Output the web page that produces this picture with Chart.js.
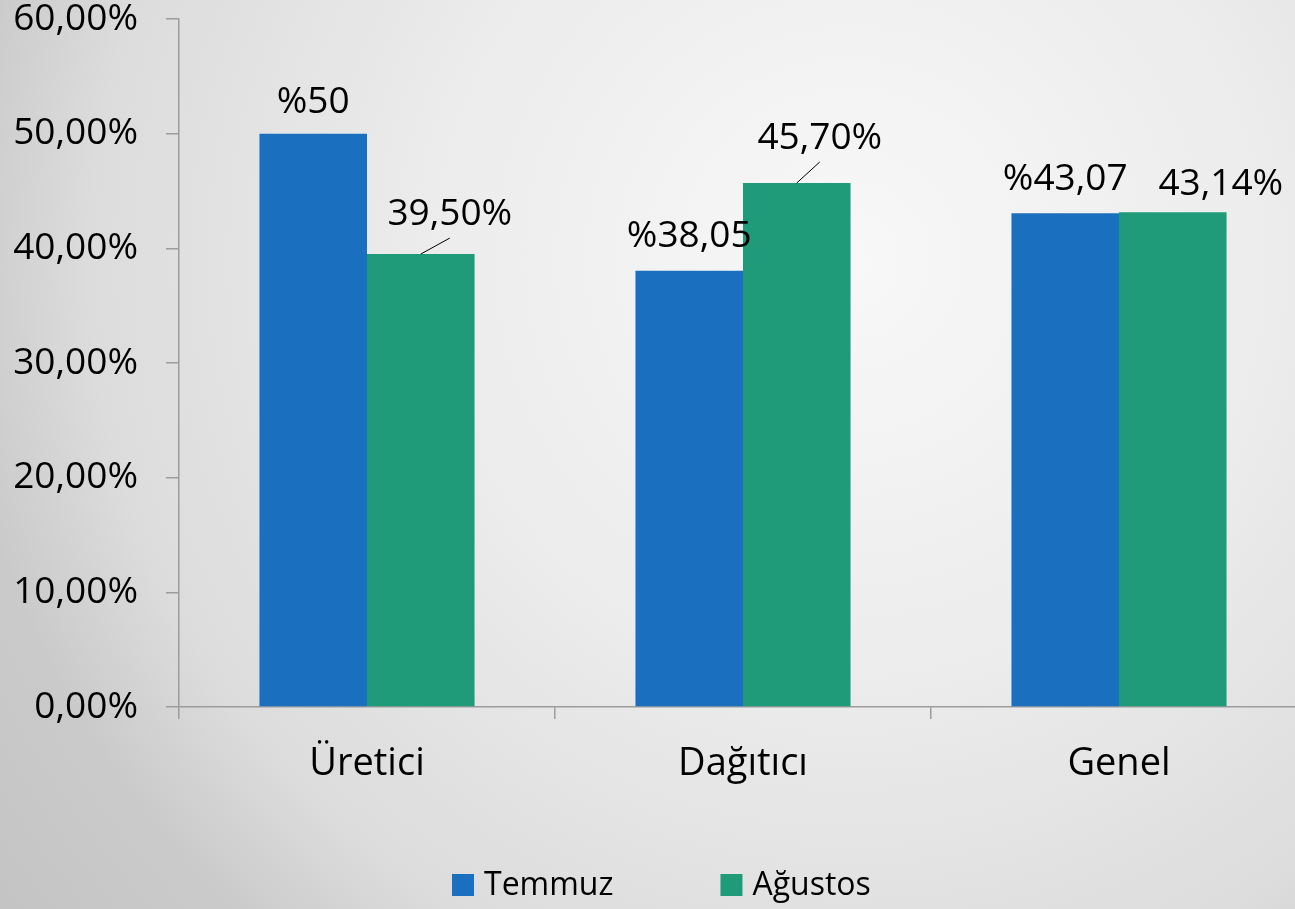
<!DOCTYPE html>
<html lang="tr">
<head>
  <meta charset="UTF-8" />
  <script src="https://cdn.jsdelivr.net/npm/chart.js"></script>
  <title>Temmuz - Ağustos</title>
  <style>
    html, body {
      margin: 0;
      padding: 0;
      width: 1295px;
      height: 909px;
      overflow: hidden;
      background: radial-gradient(circle at 850px 260px, #f8f8f8 0px, #ececec 420px, #dcdcdc 760px, #cacaca 900px, #c3c3c3 1100px);
    }
    #kutu { width: 1320px; height: 909px; }
  </style>
</head>
<body>
  <div id="kutu"><canvas id="grafico"></canvas></div>
  <script>
    // veriler
    const kategoriler = ['Üretici', 'Dağıtıcı', 'Genel'];
    const temmuz = [50, 38.05, 43.07];
    const agustos = [39.5, 45.7, 43.14];
    const temmuzEtiket = ['%50', '%38,05', '%43,07'];
    const agustosEtiket = ['39,50%', '45,70%', '43,14%'];

    const MAVI = '#1a6fbf';
    const YESIL = '#1f9b79';
    const YAZI = '"Open Sans", "DejaVu Sans", sans-serif';

    // etiket kaydirmalari [dx, dy(taban cizgisi - bar ustu), cizgi var mi]
    const kaydirma = [
      [[0, -21, false], [0, -24, false], [0, -23, false]],
      [[29, -29, true], [23, -34, true], [48, -17, false]]
    ];

    // bar ustu etiketler
    const etiketPlugin = {
      id: 'etiketler',
      afterDatasetsDraw(chart) {
        const ctx = chart.ctx;
        const metinler = [temmuzEtiket, agustosEtiket];
        ctx.save();
        ctx.font = '37px ' + YAZI;
        ctx.fillStyle = '#000';
        ctx.textAlign = 'center';
        ctx.textBaseline = 'alphabetic';
        chart.data.datasets.forEach((ds, i) => {
          chart.getDatasetMeta(i).data.forEach((bar, j) => {
            const [dx, dy, cizgi] = kaydirma[i][j];
            ctx.fillText(metinler[i][j], bar.x + dx, bar.y + dy);
            if (cizgi) {
              ctx.beginPath();
              ctx.strokeStyle = '#000';
              ctx.lineWidth = 1;
              ctx.moveTo(bar.x, bar.y);
              ctx.lineTo(bar.x + dx, bar.y + dy + 13);
              ctx.stroke();
            }
          });
        });
        ctx.restore();
      }
    };

    // alt taraftaki lejant
    const lejantPlugin = {
      id: 'lejant',
      afterDraw(chart) {
        const ctx = chart.ctx;
        ctx.save();
        ctx.font = '32px ' + YAZI;
        ctx.textBaseline = 'middle';
        ctx.textAlign = 'left';
        const kare = 22, bosluk = 10, araBosluk = 107;
        let x = 452;
        const y = 885;
        chart.data.datasets.forEach(ds => {
          ctx.fillStyle = ds.backgroundColor;
          ctx.fillRect(x, y - kare / 2, kare, kare);
          ctx.fillStyle = '#000';
          ctx.fillText(ds.label, x + kare + bosluk, y + 1);
          x += kare + bosluk + ctx.measureText(ds.label).width + araBosluk;
        });
        ctx.restore();
      }
    };

    const ctx = document.getElementById('grafico').getContext('2d');
    new Chart(ctx, {
      type: 'bar',
      data: {
        labels: kategoriler,
        datasets: [
          { label: 'Temmuz', data: temmuz, backgroundColor: MAVI },
          { label: 'Ağustos', data: agustos, backgroundColor: YESIL }
        ]
      },
      plugins: [etiketPlugin, lejantPlugin],
      options: {
        responsive: true,
        maintainAspectRatio: false,
        animation: false,
        layout: { padding: { top: 0, right: 13, left: 0, bottom: 0 } },
        datasets: {
          bar: { barPercentage: 1, categoryPercentage: 0.572 }
        },
        plugins: {
          legend: { display: false },
          tooltip: { enabled: false }
        },
        scales: {
          x: {
            afterFit(scale) { scale.height = 202; },
            border: { color: '#9c9c9c', width: 1.5 },
            grid: { offset: true, drawOnChartArea: false, drawTicks: true, tickLength: 12, color: '#9c9c9c', lineWidth: 1.5 },
            ticks: { color: '#000', padding: 26, font: { family: YAZI, size: 38, lineHeight: 1 } }
          },
          y: {
            min: 0,
            max: 60,
            afterFit(scale) {
              scale.width = 179;
              scale.paddingTop = 19;
              scale.paddingBottom = 0;
            },
            border: { color: '#9c9c9c', width: 1.5 },
            grid: { drawOnChartArea: false, drawTicks: true, tickLength: 13, color: '#9c9c9c', lineWidth: 1.5 },
            ticks: {
              stepSize: 10,
              color: '#000',
              padding: 28,
              font: { family: YAZI, size: 37, lineHeight: 1 },
              callback: v => v.toFixed(2).replace('.', ',') + '%'
            }
          }
        }
      }
    });
  </script>
</body>
</html>
